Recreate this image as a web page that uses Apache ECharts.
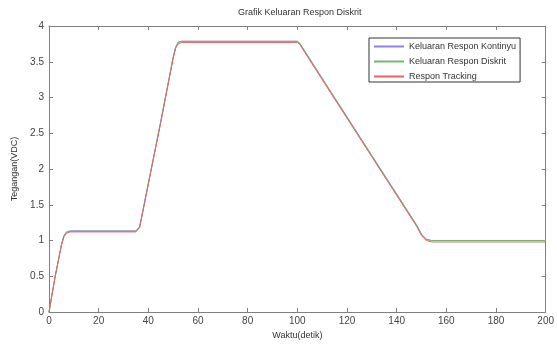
<!DOCTYPE html>
<html>
<head>
<meta charset="utf-8">
<script src="https://cdn.jsdelivr.net/npm/echarts@6/dist/echarts.min.js"></script>
<style>
  html, body { margin: 0; padding: 0; background: #fff; }
  #chart { width: 557px; height: 345px; }
</style>
</head>
<body>
<div id="chart"></div>
<script>
// data (time in detik, voltage in VDC)
const waktuKontinyu = [0, 2.5, 5, 6, 7, 8.5, 35, 36.5, 45, 50, 51, 52, 53.5, 100, 101, 110, 130, 148, 150, 151, 152, 154, 200];
const nilaiKontinyu = [0, 0.5, 0.94, 1.07, 1.12, 1.135, 1.135, 1.195, 2.665, 3.565, 3.705, 3.775, 3.787, 3.787, 3.76, 3.27, 2.19, 1.22, 1.09, 1.05, 1.02, 1.0, 1.0];

const waktuDiskrit = [0, 2.5, 5, 6, 7, 8.5, 35, 36.5, 45, 50, 51, 52, 53.5, 100, 101, 110, 130, 148, 150, 151, 152, 154, 200];
const nilaiDiskrit = [0, 0.5, 0.94, 1.06, 1.11, 1.13, 1.13, 1.19, 2.66, 3.56, 3.7, 3.77, 3.785, 3.785, 3.755, 3.265, 2.185, 1.215, 1.085, 1.045, 1.015, 1.0, 1.0];

const waktuTracking = [0, 2.5, 5, 6, 7, 8.5, 35, 36.5, 45, 50, 51, 52, 53.5, 100, 101, 110, 130, 148, 150, 151, 152, 154, 200];
const nilaiTracking = [0, 0.5, 0.93, 1.05, 1.1, 1.12, 1.12, 1.18, 2.65, 3.55, 3.69, 3.75, 3.77, 3.77, 3.74, 3.25, 2.17, 1.2, 1.07, 1.03, 1.0, 0.98, 0.98];

const xTicks = [0, 200, 20];
const yTicks = [0, 4, 0.5];

function pasangan(t, v) {
  return t.map((x, i) => [x, v[i]]);
}

const chart = echarts.init(document.getElementById('chart'));
const font = 'Liberation Sans, Arial, sans-serif';
const garis = '#7f7f7f';

const sumbuX = {
  type: 'value',
  min: xTicks[0],
  max: xTicks[1],
  interval: xTicks[2],
  axisLine: { show: true, onZero: false, lineStyle: { color: garis, width: 1 } },
  axisTick: { show: true, inside: true, length: 4, lineStyle: { color: garis } },
  splitLine: { show: false }
};
const sumbuY = {
  type: 'value',
  min: yTicks[0],
  max: yTicks[1],
  interval: yTicks[2],
  axisLine: { show: true, onZero: false, lineStyle: { color: garis, width: 1 } },
  axisTick: { show: true, inside: true, length: 4, lineStyle: { color: garis } },
  splitLine: { show: false }
};

const option = {
  backgroundColor: '#fff',
  animation: false,
  title: {
    text: 'Grafik Keluaran Respon Diskrit',
    left: 233,
    top: 3,
    textStyle: { fontFamily: font, fontSize: 9, fontWeight: 'normal', color: '#333' }
  },
  legend: {
    orient: 'vertical',
    left: 369,
    top: 38,
    padding: [3, 4, 0, 5],
    itemGap: 4,
    itemWidth: 30,
    itemHeight: 2,
    icon: 'rect',
    borderColor: '#333',
    borderWidth: 1,
    backgroundColor: '#fff',
    textStyle: { fontFamily: font, fontSize: 9, lineHeight: 11, color: '#333' },
    data: ['Keluaran Respon Kontinyu', 'Keluaran Respon Diskrit', 'Respon Tracking']
  },
  grid: { left: 49, right: 8, top: 26, bottom: 28 },
  xAxis: [
    Object.assign({}, sumbuX, {
      position: 'bottom',
      name: 'Waktu(detik)',
      nameLocation: 'middle',
      nameGap: 19,
      nameTextStyle: { fontFamily: font, fontSize: 9, color: '#333' },
      axisLabel: { fontFamily: font, fontSize: 10, color: '#444', margin: 4 }
    }),
    Object.assign({}, sumbuX, { position: 'top', axisLabel: { show: false } })
  ],
  yAxis: [
    Object.assign({}, sumbuY, {
      position: 'left',
      name: 'Tegangan(VDC)',
      nameLocation: 'middle',
      nameGap: 24,
      nameTextStyle: { fontFamily: font, fontSize: 9, color: '#333' },
      axisLabel: { fontFamily: font, fontSize: 10, color: '#444', margin: 5 }
    }),
    Object.assign({}, sumbuY, { position: 'right', axisLabel: { show: false } })
  ],
  series: [
    {
      name: 'Keluaran Respon Kontinyu',
      type: 'line',
      showSymbol: false,
      color: '#8f7ff0',
      lineStyle: { width: 1 },
      data: pasangan(waktuKontinyu, nilaiKontinyu)
    },
    {
      name: 'Keluaran Respon Diskrit',
      type: 'line',
      showSymbol: false,
      color: '#6fb86f',
      lineStyle: { width: 1 },
      data: pasangan(waktuDiskrit, nilaiDiskrit)
    },
    {
      name: 'Respon Tracking',
      type: 'line',
      showSymbol: false,
      color: '#ea6161',
      lineStyle: { width: 1 },
      data: pasangan(waktuTracking, nilaiTracking)
    }
  ]
};

chart.setOption(option);
</script>
</body>
</html>
